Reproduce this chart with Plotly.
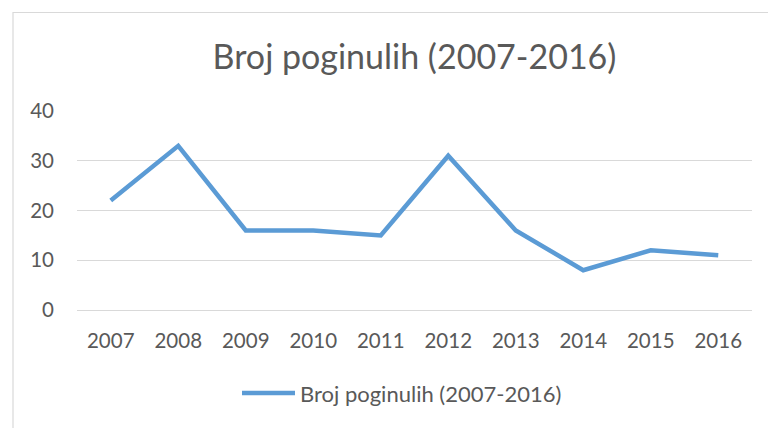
import plotly.graph_objects as go

years = ["2007", "2008", "2009", "2010", "2011", "2012", "2013", "2014", "2015", "2016"]
deaths = [22, 33, 16, 16, 15, 31, 16, 8, 12, 11]
series_name = "Broj poginulih (2007-2016)"
title_text = "Broj poginulih (2007-2016)"

W, H = 768, 428
L, R, T, B = 77, 16, 111, 118
pw, ph = W - L - R, H - T - B

def px(x):
    return (x - L) / pw

def py(y):
    return (H - B - y) / ph

font_family = "Lato, 'Open Sans', sans-serif"
grey = "#595959"
blue = "#5B9BD5"

fig = go.Figure()
fig.add_trace(go.Scatter(
    x=years, y=deaths, mode="lines", name=series_name,
    line=dict(color=blue, width=4.5), showlegend=False,
))

fig.update_layout(
    width=W, height=H,
    margin=dict(l=L, r=R, t=T, b=B),
    paper_bgcolor="white", plot_bgcolor="white",
    font=dict(family=font_family, color=grey, size=16),
    title=dict(text=title_text, x=0.5, xanchor="center", xref="paper",
               y=1 - 57 / H, yanchor="middle",
               font=dict(size=34, color=grey, family=font_family)),
    xaxis=dict(type="category", range=[-0.5, 9.5], showgrid=False,
               showline=False, zeroline=False, ticks="",
               tickfont=dict(size=20.5, color=grey), ticklabelstandoff=16),
    yaxis=dict(range=[0, 40], dtick=10, showgrid=True, gridcolor="#D9D9D9",
               gridwidth=1, zeroline=True, zerolinecolor="#D9D9D9", zerolinewidth=1,
               showline=False, ticks="", tickfont=dict(size=20.5, color=grey),
               ticklabelstandoff=22),
    shapes=[
        dict(type="rect", xref="paper", yref="paper",
             x0=px(13), x1=px(775), y0=py(435), y1=py(12.5),
             line=dict(color="#D9D9D9", width=1.2), fillcolor="rgba(0,0,0,0)",
             layer="below"),
        dict(type="line", xref="paper", yref="paper",
             x0=px(242), x1=px(295), y0=py(393), y1=py(393),
             line=dict(color=blue, width=4.5)),
    ],
    annotations=[
        dict(text=series_name, xref="paper", yref="paper", x=px(298), y=py(393),
             xanchor="left", yanchor="middle", showarrow=False,
             font=dict(size=22, color=grey, family=font_family)),
    ],
)

fig.write_html("out.html", config={"displayModeBar": False},
               post_script="document.body.style.margin='0';document.body.style.padding='0';")
